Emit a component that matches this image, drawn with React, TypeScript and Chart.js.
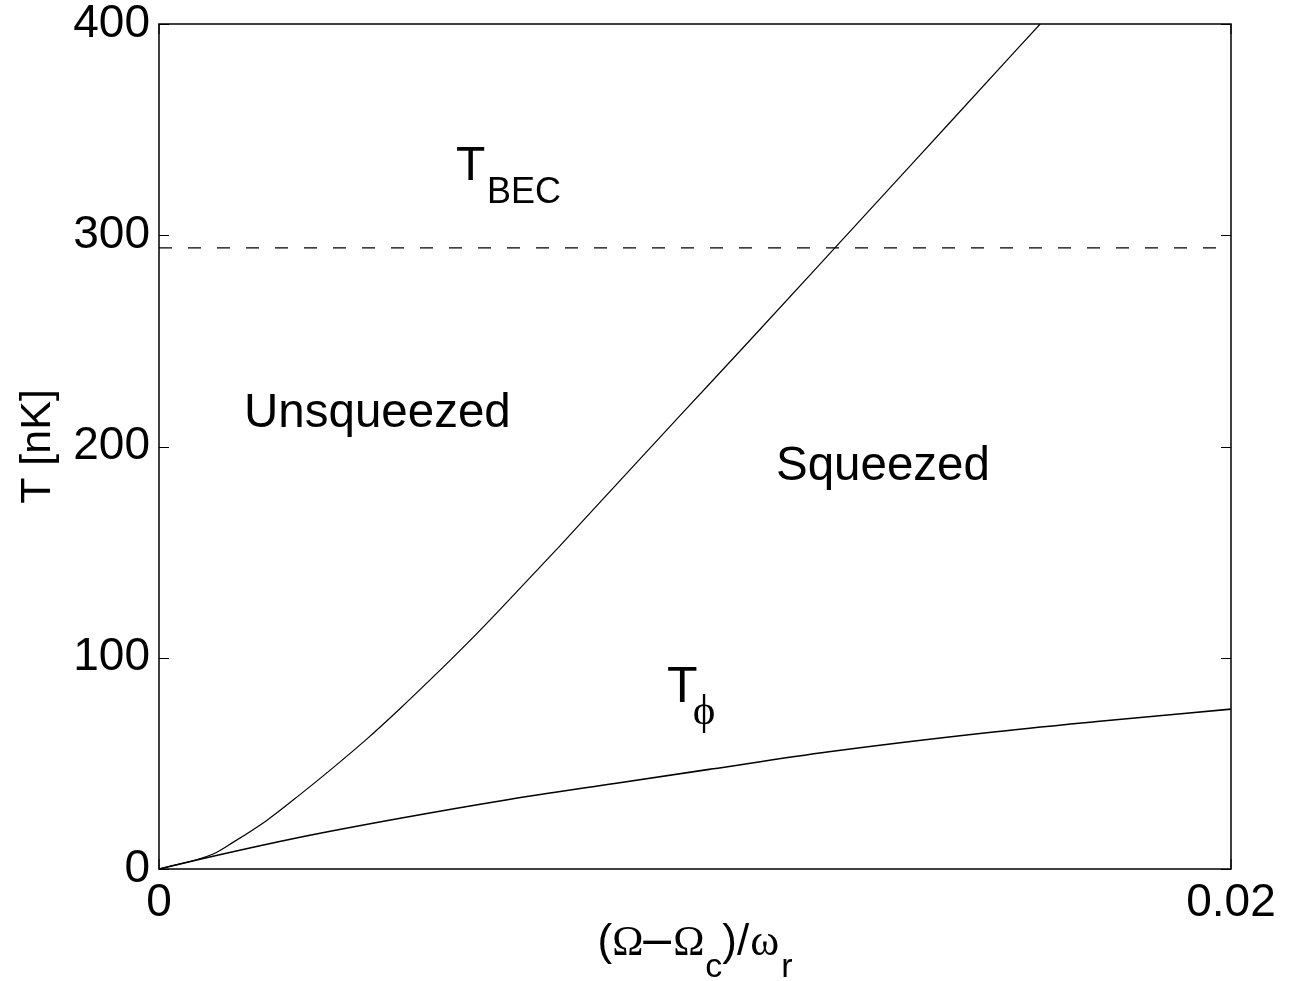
import React, { useEffect, useRef } from 'react';
import { Chart, registerables } from 'chart.js';

Chart.register(...registerables);

// ---- data ----
const upperX = [0, 0.00101, 0.00138, 0.00201, 0.00263, 0.00325, 0.00388, 0.0045, 0.00511, 0.00575, 0.00636, 0.00748, 0.00854, 0.00972, 0.01103, 0.01261, 0.01476, 0.01644];
const upperT = [0, 7.1, 12.6, 23.0, 35.2, 48.0, 61.6, 76.0, 90.8, 106.8, 122.8, 153.0, 182.2, 214.6, 250.4, 294.0, 353.5, 400];
const lowerX = [0, 0.000765, 0.00263, 0.0045, 0.00636, 0.0085, 0.0103, 0.0125, 0.0154, 0.0175, 0.02];
const lowerT = [0, 4.6, 15.0, 24.0, 32.2, 40.5, 47.3, 55.5, 64.4, 69.8, 75.7];
const tBEC = 294;
const xRange = [0, 0.02];
const xTicks = [0, 0.02];
const xTickLabels = ['0', '0.02'];
const yTicks = [0, 100, 200, 300, 400];
const yTickLabels = ['0', '100', '200', '300', '400'];
const yLabel = 'T [nK]';

const SANS = 'Liberation Sans, Arial, sans-serif';
const SERIF = 'Liberation Serif, Times New Roman, serif';

// text annotations anchored at data coordinates (left, baseline)
const annotations = [
  { text: 'Unsqueezed', x: 0.001586, y: 209.2, size: 47.5, family: SANS },
  { text: 'Squeezed', x: 0.011511, y: 184.1, size: 47.5, family: SANS },
  { text: 'T', x: 0.005541, y: 326.2, size: 48, family: SANS },
  { text: 'BEC', x: 0.00612, y: 315.3, size: 36, family: SANS },
  { text: 'T', x: 0.009478, y: 79.1, size: 50, family: SANS },
  { text: '\u03D5', x: 0.00996, y: 68.8, size: 43, family: 'Liberation Serif, DejaVu Serif, serif' },
];

// x axis title pieces, laid out left to right; dy = shift below main baseline
const xTitlePieces = [
  { t: '(', dy: 0, size: 44, family: SANS, gap: 0 },
  { t: '\u03A9', dy: 0, size: 42, family: SERIF, gap: 0 },
  { t: '\u2013', dy: 0, size: 50, family: SANS, gap: 0 },
  { t: '\u03A9', dy: 0, size: 42, family: SERIF, gap: 2 },
  { t: 'c', dy: 22, size: 34, family: SANS, gap: 1 },
  { t: ')', dy: 0, size: 44, family: SANS, gap: 0 },
  { t: '/', dy: 0, size: 44, family: SANS, gap: 0 },
  { t: '\u03C9', dy: 0, size: 44, family: SERIF, gap: 1 },
  { t: 'r', dy: 22, size: 34, family: SANS, gap: 2 },
];

const framePlugin = {
  id: 'frameAndText',
  afterDraw(chart: any) {
    const { ctx, chartArea, scales } = chart;
    const { left, right, top, bottom } = chartArea;
    const x = scales.x;
    const y = scales.y;
    ctx.save();
    ctx.strokeStyle = '#000';
    ctx.lineWidth = 1.5;
    ctx.strokeRect(left, top, right - left, bottom - top);
    ctx.lineWidth = 1;
    ctx.beginPath();
    for (const v of yTicks) {
      const py = Math.round(y.getPixelForValue(v)) + 0.5;
      ctx.moveTo(left, py);
      ctx.lineTo(left + 10, py);
      ctx.moveTo(right, py);
      ctx.lineTo(right - 10, py);
    }
    for (const v of xTicks) {
      const px = x.getPixelForValue(v);
      ctx.moveTo(px, bottom);
      ctx.lineTo(px, bottom - 10);
      ctx.moveTo(px, top);
      ctx.lineTo(px, top + 10);
    }
    ctx.stroke();

    ctx.fillStyle = '#000';
    ctx.textAlign = 'left';
    ctx.textBaseline = 'alphabetic';
    for (const a of annotations) {
      ctx.font = `${a.size}px ${a.family}`;
      ctx.fillText(a.text, x.getPixelForValue(a.x), y.getPixelForValue(a.y));
    }

    // x axis title with subscripts
    const widths = xTitlePieces.map((p) => {
      ctx.font = `${p.size}px ${p.family}`;
      return ctx.measureText(p.t).width + p.gap;
    });
    const total = widths.reduce((s, w) => s + w, 0);
    let cur = (left + right) / 2 - total / 2;
    const base = bottom + 86;
    xTitlePieces.forEach((p, i) => {
      ctx.font = `${p.size}px ${p.family}`;
      ctx.fillText(p.t, cur + p.gap, base + p.dy);
      cur += widths[i];
    });
    ctx.restore();
  },
};

export default function App() {
  const ref = useRef<HTMLCanvasElement | null>(null);

  useEffect(() => {
    if (!ref.current) return;
    const upper = upperX.map((v, i) => ({ x: v, y: upperT[i] }));
    const lower = lowerX.map((v, i) => ({ x: v, y: lowerT[i] }));
    const dashed = xRange.map((v) => ({ x: v, y: tBEC }));

    const chart = new Chart(ref.current, {
      type: 'line',
      data: {
        datasets: [
          {
            data: upper,
            borderColor: '#000',
            borderWidth: 1.2,
            pointRadius: 0,
            cubicInterpolationMode: 'monotone',
            fill: false,
          },
          {
            data: lower,
            borderColor: '#000',
            borderWidth: 1.6,
            pointRadius: 0,
            cubicInterpolationMode: 'monotone',
            fill: false,
          },
          {
            data: dashed,
            borderColor: '#000',
            borderWidth: 1.2,
            borderDash: [13, 16],
            pointRadius: 0,
            fill: false,
          },
        ],
      },
      options: {
        animation: false,
        responsive: false,
        events: [],
        layout: { padding: { top: 24, right: 58, left: 0, bottom: 0 } },
        plugins: {
          legend: { display: false },
          tooltip: { enabled: false },
        },
        scales: {
          x: {
            type: 'linear',
            min: xRange[0],
            max: xRange[1],
            afterBuildTicks: (s: any) => {
              s.ticks = xTicks.map((v) => ({ value: v }));
            },
            ticks: {
              callback: (v: any) => {
                const i = xTicks.findIndex((t) => Math.abs(t - v) < 1e-9);
                return i >= 0 ? xTickLabels[i] : '';
              },
              font: { family: SANS, size: 46 },
              color: '#000',
              padding: 7,
              maxRotation: 0,
              autoSkip: false,
            },
            grid: { display: false, drawTicks: false },
            border: { display: false },
            afterFit: (s: any) => {
              s.height = 112;
              s.paddingLeft = 0;
              s.paddingRight = 0;
            },
          },
          y: {
            type: 'linear',
            min: 0,
            max: 400,
            afterBuildTicks: (s: any) => {
              s.ticks = yTicks.map((v) => ({ value: v }));
            },
            ticks: {
              callback: (v: any) => {
                const i = yTicks.indexOf(v);
                return i >= 0 ? yTickLabels[i] : '';
              },
              font: { family: SANS, size: 46 },
              color: '#000',
              padding: 9,
              autoSkip: false,
            },
            title: {
              display: true,
              text: yLabel,
              font: { family: SANS, size: 43 },
              color: '#000',
              padding: { top: 12, bottom: 0 },
            },
            grid: { display: false, drawTicks: false },
            border: { display: false },
            afterFit: (s: any) => {
              s.width = 159;
              s.paddingTop = 0;
              s.paddingBottom = 0;
            },
          },
        },
      } as any,
      plugins: [framePlugin],
    });
    return () => chart.destroy();
  }, []);

  return (
    <div style={{ position: 'absolute', left: 0, top: 0, width: 1289, height: 981, background: '#fff' }}>
      <canvas ref={ref} width={1289} height={981} style={{ display: 'block' }} />
    </div>
  );
}
